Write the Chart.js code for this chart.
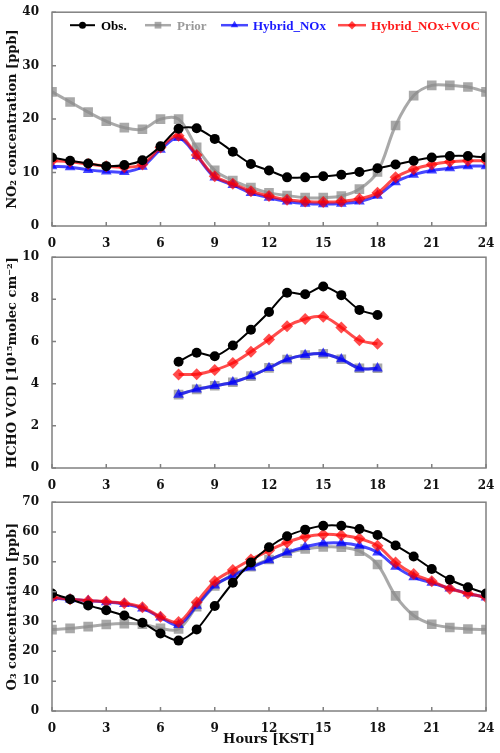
<!DOCTYPE html>
<html>
<head>
<meta charset="utf-8">
<script src="https://cdn.jsdelivr.net/npm/chart.js@4.4.1/dist/chart.umd.min.js"></script>
<style>
  html, body { margin: 0; padding: 0; background: #fff; }
  body { width: 500px; height: 753px; position: relative; overflow: hidden; }
  canvas { position: absolute; left: 0; }
</style>
</head>
<body>
<canvas id="c1" width="500" height="250" style="top:0px"></canvas>
<canvas id="c2" width="500" height="245" style="top:245px"></canvas>
<canvas id="c3" width="500" height="263" style="top:490px"></canvas>
<script>
// ---------- data ----------
const hours = [0,1,2,3,4,5,6,7,8,9,10,11,12,13,14,15,16,17,18,19,20,21,22,23,24];
const hchoHours = [7,8,9,10,11,12,13,14,15,16,17,18];
const xTicks = [0,3,6,9,12,15,18,21,24];
const seriesNames = ['Obs.', 'Prior', 'Hybrid_NOx', 'Hybrid_NOx+VOC'];

const no2Obs    = [12.8,12.2,11.7,11.2,11.4,12.3,14.9,18.2,18.3,16.3,13.9,11.6,10.4,9.1,9.1,9.3,9.6,10.1,10.8,11.5,12.2,12.8,13.1,13.1,12.8];
const no2Prior  = [25.1,23.2,21.3,19.6,18.4,18.1,20.0,20.0,14.7,10.4,8.5,7.2,6.2,5.7,5.3,5.3,5.6,6.9,10.1,18.8,24.4,26.3,26.3,26.0,25.1];
const no2NOx    = [11.2,11.0,10.5,10.2,10.1,11.1,14.3,16.5,13.1,9.1,7.7,6.2,5.3,4.6,4.2,4.1,4.2,4.6,5.7,8.2,9.6,10.4,10.8,11.2,11.2];
const no2NOxVOC = [12.2,12.0,11.6,11.2,11.0,11.5,14.7,16.9,13.3,9.3,7.9,6.5,5.6,4.9,4.6,4.5,4.6,5.1,6.2,9.1,10.6,11.5,12.0,12.2,12.2];

const hchoObs    = [5.04,5.47,5.30,5.81,6.56,7.40,8.31,8.24,8.61,8.20,7.50,7.26];
const hchoPrior  = [3.48,3.73,3.90,4.07,4.36,4.75,5.15,5.36,5.42,5.16,4.73,4.73];
const hchoNOx    = [3.48,3.73,3.90,4.07,4.36,4.75,5.15,5.36,5.42,5.16,4.73,4.73];
const hchoNOxVOC = [4.44,4.45,4.65,4.98,5.52,6.10,6.72,7.07,7.18,6.67,6.06,5.89];

const o3Obs    = [39.4,37.5,35.4,33.8,32.0,29.6,26.0,23.6,27.3,35.2,43.0,49.8,54.9,58.6,60.8,62.1,62.1,61.0,59.0,55.5,51.8,47.6,44.0,41.5,39.4];
const o3Prior  = [27.3,27.7,28.3,29.0,29.3,29.1,27.7,27.5,35.0,41.9,45.7,48.4,50.8,52.9,54.3,55.0,54.9,53.6,49.1,38.6,32.0,29.1,28.0,27.5,27.3];
const o3NOx    = [37.9,37.4,37.0,36.5,35.9,34.4,31.4,28.9,35.3,42.1,45.4,48.1,50.6,53.2,55.0,56.2,56.3,55.4,53.2,48.4,44.9,43.0,41.1,39.4,38.1];
const o3NOxVOC = [38.1,37.5,37.0,36.7,36.1,34.8,31.6,29.8,36.5,43.5,47.3,50.8,53.8,56.5,58.4,59.2,58.9,57.8,55.4,49.8,45.9,43.5,41.0,39.4,38.1];

// ---------- styles ----------
const FONT = "'DejaVu Serif', serif";
const LEGEND_FONT = "'Liberation Serif', 'Times New Roman', serif";
const styles = [
  { color: '#000000', text: '#000000', point: 'circle',   radius: 5,   width: 2,   order: 0, tension: 0.25 },
  { color: 'rgba(140,140,140,0.75)', text: '#999999', point: 'rect', radius: 6.8, width: 3, order: 3, tension: 0.35 },
  { color: 'rgba(0,0,255,0.72)', text: '#1a1aff', point: 'triangle', radius: 6.2, width: 3, order: 2, tension: 0.35 },
  { color: 'rgba(255,0,0,0.7)', text: '#ff1a1a', point: 'rectRot', radius: 6, width: 3, order: 1, tension: 0.35 }
];

function makeDatasets(xs, arrays) {
  return arrays.map((arr, i) => {
    const s = styles[i];
    return {
      label: seriesNames[i],
      data: arr.map((v, k) => ({ x: xs[k], y: v })),
      borderColor: s.color,
      backgroundColor: s.color,
      pointBackgroundColor: s.color,
      pointBorderColor: s.color,
      pointBorderWidth: 0,
      pointStyle: s.point,
      pointRadius: s.radius,
      borderWidth: s.width,
      tension: s.tension,
      order: s.order,
      fill: false
    };
  });
}

const framePlugin = {
  id: 'frame',
  afterDraw(chart) {
    const { ctx, chartArea: a } = chart;
    ctx.save();
    ctx.strokeStyle = '#808080';
    ctx.lineWidth = 1.5;
    const xs = chart.scales.x, ys = chart.scales.y;
    ctx.beginPath();
    xs.ticks.forEach(t => {
      const px = xs.getPixelForValue(t.value);
      ctx.moveTo(px, a.bottom); ctx.lineTo(px, a.bottom - 4);
    });
    ys.ticks.forEach(t => {
      const py = ys.getPixelForValue(t.value);
      ctx.moveTo(a.left, py); ctx.lineTo(a.left + 4, py);
    });
    ctx.stroke();
    ctx.strokeRect(a.left, a.top, a.right - a.left, a.bottom - a.top);
    ctx.restore();
  }
};

function drawMarker(ctx, style, x, y, r) {
  ctx.beginPath();
  if (style === 'circle') {
    ctx.arc(x, y, r, 0, Math.PI * 2);
  } else if (style === 'rect') {
    const s = r * Math.SQRT1_2;
    ctx.rect(x - s, y - s, 2 * s, 2 * s);
  } else if (style === 'triangle') {
    const side = 3 * r / Math.sqrt(3);
    const h = side * Math.sqrt(3) / 2;
    ctx.moveTo(x - side / 2, y + h / 3);
    ctx.lineTo(x + side / 2, y + h / 3);
    ctx.lineTo(x, y - 2 * h / 3);
    ctx.closePath();
  } else {
    ctx.moveTo(x - r, y); ctx.lineTo(x, y - r); ctx.lineTo(x + r, y); ctx.lineTo(x, y + r);
    ctx.closePath();
  }
  ctx.fill();
}

const legendPlugin = {
  id: 'customLegend',
  afterDraw(chart) {
    const { ctx, chartArea: a } = chart;
    const y = a.top + 13;
    const items = [
      { x0: 70, x1: 95, tx: 101 },
      { x0: 145, x1: 171, tx: 177 },
      { x0: 221, x1: 248, tx: 253 },
      { x0: 338, x1: 366, tx: 371 }
    ];
    ctx.save();
    ctx.font = "bold 13px " + LEGEND_FONT;
    ctx.textBaseline = 'middle';
    items.forEach((it, i) => {
      const s = styles[i];
      ctx.strokeStyle = s.color;
      ctx.fillStyle = s.color;
      ctx.lineWidth = s.width === 2 ? 2 : 2.5;
      ctx.beginPath(); ctx.moveTo(it.x0, y); ctx.lineTo(it.x1, y); ctx.stroke();
      drawMarker(ctx, s.point, (it.x0 + it.x1) / 2, y, s.radius * 0.7);
      ctx.fillStyle = s.text;
      ctx.fillText(seriesNames[i], it.tx, y + 1);
    });
    ctx.restore();
  }
};

function makeChart(id, xs, arrays, yMin, yMax, yStep, yTitle, opts) {
  const plugins = [framePlugin];
  if (opts.legend) plugins.push(legendPlugin);
  return new Chart(document.getElementById(id), {
    type: 'line',
    data: { datasets: makeDatasets(xs, arrays) },
    plugins: plugins,
    options: {
      responsive: false,
      animation: false,
      devicePixelRatio: 1,
      layout: { padding: { top: opts.top, right: 14, left: 0, bottom: 0 } },
      plugins: { legend: { display: false }, tooltip: { enabled: false } },
      scales: {
        x: {
          type: 'linear', min: 0, max: 24,
          afterBuildTicks(scale) { scale.ticks = xTicks.map(v => ({ value: v })); },
          ticks: { color: '#111', font: { family: FONT, size: 12, weight: 'bold' }, padding: 3, maxRotation: 0, autoSkip: false },
          grid: { display: false },
          border: { display: false },
          title: opts.xTitle ? { display: true, text: opts.xTitle, color: '#111', font: { family: FONT, size: 13, weight: 'bold' }, padding: { top: 0, bottom: 6 } } : { display: false },
          afterFit(scale) { scale.height = opts.xh; }
        },
        y: {
          min: yMin, max: yMax,
          ticks: { stepSize: yStep, color: '#111', font: { family: FONT, size: 12, weight: 'bold' }, padding: 5 },
          grid: { display: false },
          border: { display: false },
          title: { display: true, text: yTitle, color: '#111', font: { family: FONT, size: 13, weight: 'bold' }, padding: { top: 5, bottom: 0 } },
          afterFit(scale) { scale.width = 52; }
        }
      }
    }
  });
}

makeChart('c1', hours, [no2Obs, no2Prior, no2NOx, no2NOxVOC], 0, 40, 10, 'NO\u2082 concentration [ppb]', { top: 10, xh: 24, legend: true });
makeChart('c2', hchoHours, [hchoObs, hchoPrior, hchoNOx, hchoNOxVOC], 0, 10, 2, 'HCHO VCD [10\u00b9\u2075molec cm\u207b\u00b2]', { top: 7, xh: 22 });
makeChart('c3', hours, [o3Obs, o3Prior, o3NOx, o3NOxVOC], 0, 70, 10, 'O\u2083 concentration [ppb]', { top: 5, xh: 42, xTitle: 'Hours [KST]' });
</script>
</body>
</html>
